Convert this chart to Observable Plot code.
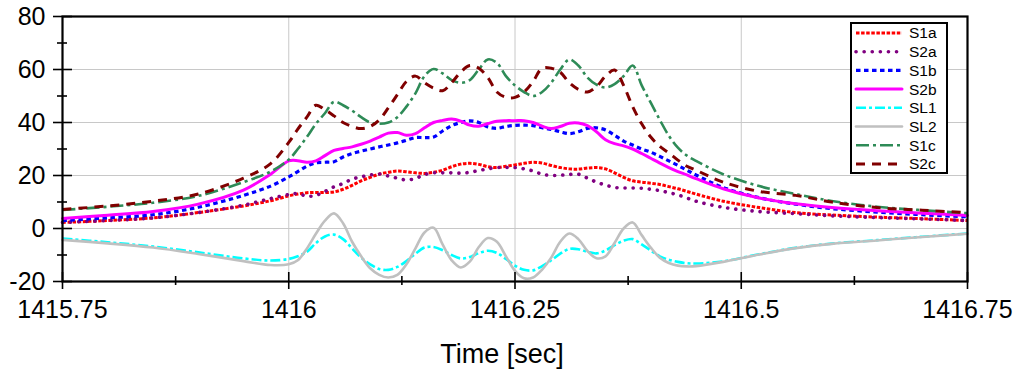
<!DOCTYPE html>
<html>
<head>
<meta charset="utf-8">
<script src="https://cdn.jsdelivr.net/npm/d3@7"></script>
<script src="https://cdn.jsdelivr.net/npm/@observablehq/plot@0.6"></script>
<style>
  body { margin: 0; background: #fff; }
  svg { display: block; }
</style>
</head>
<body>
<div id="chart"></div>
<script>
// ---- data ----
const time = [
  1415.75, 1415.80, 1415.85, 1415.90, 1415.95, 1415.98,
  1416.00, 1416.01, 1416.02, 1416.03, 1416.04, 1416.05, 1416.06, 1416.07, 1416.08, 1416.09,
  1416.10, 1416.11, 1416.12, 1416.13, 1416.14, 1416.15, 1416.16, 1416.17, 1416.18, 1416.19,
  1416.20, 1416.21, 1416.22, 1416.23, 1416.24, 1416.25, 1416.26, 1416.27, 1416.28, 1416.29,
  1416.30, 1416.31, 1416.32, 1416.33, 1416.34, 1416.35, 1416.36, 1416.37, 1416.38, 1416.39,
  1416.40, 1416.41, 1416.42, 1416.43, 1416.44, 1416.45,
  1416.48, 1416.52, 1416.56, 1416.60, 1416.65, 1416.70, 1416.75
];
const S1a = [2.3, 3.0, 4.0, 6.0, 8.5, 10.5,
  12.3, 13, 13.5, 13.6, 13.6, 13.8, 14.8, 16.3, 18, 19.3,
  20.5, 21.2, 21.7, 21.4, 21, 20.8, 21.2, 22, 23.3, 24.3,
  24.6, 24.2, 23.3, 23, 23.5, 24, 24.6, 25, 24.7, 23.8,
  23, 22.5, 22.4, 22.8, 23, 22.5, 21, 19.3, 18, 17.5,
  17.1, 16.6, 15.8, 15, 14, 13,
  10.3, 7.9, 6.0, 5.1, 4.3, 3.7, 3.0];
const S2a = [2.3, 3.0, 4.0, 6.0, 8.8, 11.3,
  12.8, 13.2, 12.2, 12.5, 14, 15.7, 17, 18.6, 19.5, 20.2,
  20.6, 19.8, 19, 18.3, 18.9, 20.3, 21, 21, 21, 20.9,
  21.2, 21.9, 22.5, 23, 23, 23, 22.5, 21.7, 20.5, 20,
  20.1, 20.4, 20.5, 19, 17.5, 16.4, 15.5, 15.3, 15.3, 15.2,
  14.8, 14.3, 13.5, 12.7, 11.5, 10.3,
  8, 6.4, 5.6, 4.8, 4.1, 3.6, 3.0];
const S1b = [3, 4, 5.2, 8, 12.5, 16,
  19.5, 21.5, 23.5, 24.8, 25, 25.2, 27, 28.3, 29.2, 30,
  30.8, 31.5, 32.3, 33.3, 34.3, 34.3, 34.5, 36.8, 38.8, 40,
  40.6, 40, 38.3, 37.8, 38.5, 38.9, 39, 38.8, 38, 37.4,
  36.5, 35.8, 36.5, 37.8, 38, 37.2, 35.2, 33, 31.5, 30,
  28.8, 27.2, 25.5, 23.8, 22, 20.2,
  15.5, 11.6, 9.2, 7.5, 6.2, 5.2, 4.4];
const S2b = [3.8, 5.0, 6.4, 9.2, 14.5, 20.5,
  25.5, 25.6, 25, 25.5, 27.5, 29.5, 30.2, 30.8, 31.8, 33,
  34.5, 36, 36.2, 35.2, 35.8, 38, 40, 40.8, 41.3, 40.5,
  39, 38.6, 39.6, 40.5, 40.7, 40.7, 40.7, 40, 38.6, 37.7,
  38.5, 39.7, 39.8, 38.8, 36.5, 33.5, 32, 31.2, 30, 28.3,
  26.5, 24.7, 23, 21.5, 20.2, 18.8,
  15, 11.5, 9.3, 7.9, 6.7, 5.8, 4.9];
const SL1 = [-3.8, -5.2, -6.8, -9.0, -11.3, -12.1,
  -11.5, -10.5, -8.8, -5.5, -3, -2.3, -4, -7.5, -11, -13.5,
  -15.3, -15.6, -14.5, -12.3, -9.5, -7.2, -7, -8.2, -10, -11.3,
  -10.8, -9.3, -8.4, -9.2, -11.5, -14, -15.6, -15.8, -14.2, -12,
  -9.5, -7.7, -7.8, -8.8, -9.4, -8.3, -6.3, -4.6, -4, -6,
  -8.3, -10.5, -11.8, -12.6, -13.1, -13.2,
  -12.4, -9.7, -7.3, -5.7, -4.4, -3.1, -1.9];
const SL2 = [-4.3, -5.6, -7.2, -9.6, -12.3, -13.8,
  -13.5, -12, -7.6, -2, 3, 5.7, 2, -5, -10.5, -15,
  -17.5, -18.5, -17.5, -13.5, -7.5, -1.5, 0.3, -6, -12, -14.7,
  -12.5, -7, -3.6, -5, -10.5, -16, -18.8, -18.5, -15.5, -11,
  -5, -1.9, -4, -8.5, -11.2, -10.5, -5.5, 0, 2.3, -2.5,
  -7.2, -11, -13, -14, -14.3, -14.2,
  -12.6, -9.8, -7.4, -5.8, -4.5, -3.2, -2.0];
const S1c = [7.0, 8.2, 9.7, 12.3, 17.5, 21.5,
  26, 30, 34.5, 39.5, 43.5, 47.8, 46.5, 44.5, 42, 40,
  39.5, 40, 42, 46, 51, 57.5, 60.2, 58.5, 56, 55,
  56, 60, 63.8, 62.5, 57.5, 54, 51.5, 50, 51.5, 55,
  60, 63.8, 61.5, 57, 54.3, 53.2, 54.5, 57.5, 61.5, 54,
  47.5, 41, 35, 30.5, 27.5, 25.5,
  20.5, 16, 13, 10.4, 8.2, 6.9, 5.8];
const S2c = [7.2, 8.5, 10.3, 13, 19, 24.5,
  32.5, 37.5, 42, 46.5, 44.8, 42.5, 40, 38.5, 37.7, 38.5,
  41, 45.5, 50.5, 55.5, 57.5, 55, 53, 52, 55, 59,
  61.5, 60.5, 57, 51.5, 49.5, 49.5, 51.5, 55.5, 60.5, 60.5,
  59, 55, 52.5, 51.5, 53.5, 57.5, 59.8, 54, 46, 39.5,
  34.5, 31, 28.5, 25.8, 23.5, 22,
  17.5, 14, 12.5, 10, 7.9, 6.9, 6.0];

const seriesNames = ["S1a", "S2a", "S1b", "S2b", "SL1", "SL2", "S1c", "S2c"];
const seriesValues = [S1a, S2a, S1b, S2b, SL1, SL2, S1c, S2c];

const xTicks = [1415.75, 1416, 1416.25, 1416.5, 1416.75];
const xTickLabels = ["1415.75", "1416", "1416.25", "1416.5", "1416.75"];
const xMinorTicks = [1415.875, 1416.125, 1416.375, 1416.625];
const yTicks = [-20, 0, 20, 40, 60, 80];
const yTickLabels = ["-20", "0", "20", "40", "60", "80"];
const yMinorTicks = [-10, 10, 30, 50, 70];
const xTitle = "Time [sec]";

// ---- styles ----
const styles = {
  S1a: {stroke: "#ff0000", dash: "3.5,1.6", width: 3, cap: "butt"},
  S2a: {stroke: "#800080", dash: "0.1,8", width: 3.6, cap: "round"},
  S1b: {stroke: "#0000ff", dash: "4.5,3.5", width: 3.2, cap: "butt"},
  S2b: {stroke: "#ff00ff", dash: null, width: 3, cap: "round"},
  SL1: {stroke: "#00ffff", dash: "10,3,3,3", width: 2.6, cap: "butt"},
  SL2: {stroke: "#c0c0c0", dash: null, width: 2.6, cap: "round"},
  S1c: {stroke: "#2e8b57", dash: "13,4,3,4", width: 2.6, cap: "butt"},
  S2c: {stroke: "#800000", dash: "9,7", width: 3, cap: "butt"}
};

const rows = seriesNames.flatMap((name, s) =>
  time.map((t, i) => ({series: name, time: t, value: seriesValues[s][i]})));

const W = 1022, H = 374;
const mL = 62, mR = 55, mT = 16, mB = 93;
const plotW = W - mL - mR, plotH = H - mT - mB;
const FONT = "'Liberation Sans', Arial, Helvetica, sans-serif";

const lineMarks = seriesNames.map(name => {
  const st = styles[name];
  return Plot.line(rows.filter(d => d.series === name), {
    x: "time", y: "value",
    stroke: st.stroke, strokeWidth: st.width,
    strokeDasharray: st.dash || undefined,
    strokeLinecap: st.cap, strokeLinejoin: "round",
    curve: "catmull-rom"
  });
});

const chart = Plot.plot({
  width: W, height: H,
  marginLeft: mL, marginRight: mR, marginTop: mT, marginBottom: mB,
  style: {fontFamily: FONT, background: "#fff", overflow: "visible"},
  x: {domain: [1415.75, 1416.75]},
  y: {domain: [-20, 80]},
  marks: [
    Plot.gridY(yTicks, {stroke: "#c8c8c8", strokeOpacity: 1, strokeWidth: 1}),
    Plot.gridX(xTicks, {stroke: "#c8c8c8", strokeOpacity: 1, strokeWidth: 1}),
    ...lineMarks,
    Plot.frame({stroke: "#000", strokeWidth: 2.2}),
    // major y ticks crossing the left axis
    Plot.tickY(yTicks, {y: d => d, stroke: "#000", strokeWidth: 1.6, insetLeft: -9, insetRight: plotW - 10}),
    Plot.tickY(yMinorTicks, {y: d => d, stroke: "#000", strokeWidth: 1.6, insetLeft: -5, insetRight: plotW - 5}),
    // x ticks crossing the bottom axis
    Plot.tickX(xTicks, {x: d => d, stroke: "#000", strokeWidth: 1.6, insetBottom: -8, insetTop: plotH - 9}),
    Plot.tickX(xMinorTicks, {x: d => d, stroke: "#000", strokeWidth: 1.6, insetBottom: -4, insetTop: plotH - 5}),
    Plot.axisX({ticks: xTicks, tickSize: 0, tickPadding: 19, fontSize: 25, label: null,
      tickFormat: d => xTickLabels[xTicks.indexOf(d)], fill: "#000"}),
    Plot.axisY({ticks: yTicks, tickSize: 0, tickPadding: 17, fontSize: 25, label: null,
      tickFormat: d => yTickLabels[yTicks.indexOf(d)], fill: "#000"}),
    Plot.text([xTitle], {frameAnchor: "bottom", dx: -13, dy: 72.5, fontSize: 27, fill: "#000", lineAnchor: "middle"})
  ]
});

document.getElementById("chart").appendChild(chart);

// ---- legend (inside plot area, top right) ----
const svg = d3.select(chart);
const lg = svg.append("g").attr("font-family", FONT).attr("text-anchor", "start");
const lx = 851, ly = 23, lw = 96, lh = 150, rowH = 18.7;
lg.append("rect").attr("x", lx).attr("y", ly).attr("width", lw).attr("height", lh)
  .attr("fill", "#fff").attr("stroke", "#000").attr("stroke-width", 2);
seriesNames.forEach((name, i) => {
  const st = styles[name];
  const cy = ly + 10 + i * rowH;
  lg.append("line").attr("x1", lx + 5).attr("x2", lx + 51).attr("y1", cy).attr("y2", cy)
    .attr("stroke", st.stroke).attr("stroke-width", st.width)
    .attr("stroke-dasharray", st.dash).attr("stroke-linecap", st.cap);
  lg.append("text").attr("x", lx + 58).attr("y", cy).attr("dy", "0.35em")
    .attr("text-anchor", "start")
    .attr("font-size", 15.5).attr("fill", "#000").text(name);
});
</script>
</body>
</html>
